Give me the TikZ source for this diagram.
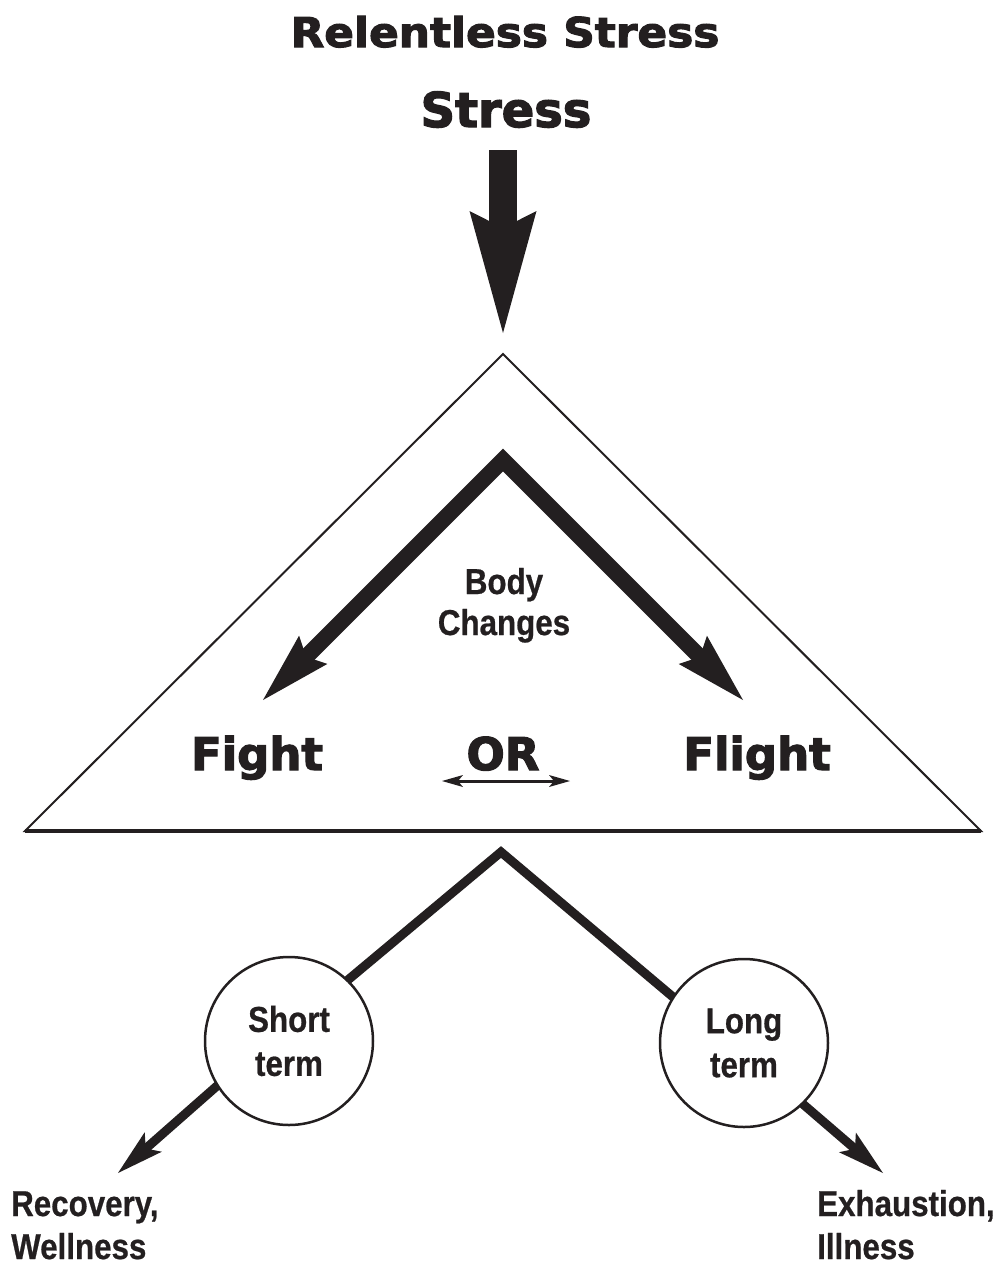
\documentclass[tikz,border=0pt]{standalone}
\usepackage{fontspec}
\usetikzlibrary{arrows.meta,calc}
\newfontfamily\heavyfont{DejaVu Sans}[FakeBold=2.6]
\newfontfamily\titlefont{DejaVu Sans}[FakeStretch=1.07,FakeBold=2.6]
\newfontfamily\condfont{Liberation Sans}[FakeStretch=0.87,FakeBold=0.6]
\definecolor{ink}{RGB}{35,31,32}
\pgfdeclarelayer{bg}
\pgfsetlayers{bg,main}
\tikzset{
  bighead/.tip={Stealth[length=71pt,width=40pt,inset=10pt,line width=0pt]},
  midhead/.tip={Stealth[length=47pt,width=26pt,inset=10pt,line width=0pt]},
  smallhead/.tip={Stealth[length=21pt,width=12pt,inset=5pt,line width=0pt]},
  stresshead/.tip={Stealth[length=122pt,width=67pt,inset=17pt,line width=0pt]},
  heavy/.style={font={\heavyfont\bfseries\fontsize{45}{50}\selectfont}, text=ink, inner sep=0pt, anchor=base},
  cond/.style={font={\condfont\bfseries\fontsize{36}{44}\selectfont}, text=ink, inner sep=0pt},
  circ/.style={cond, circle, draw=ink, line width=2.5pt, fill=white, minimum size=168pt, align=center},
  tri/.style={draw=ink, line width=2pt, line join=miter},
  bigarrow/.style={draw=ink, line width=28pt, -stresshead},
  chev/.style={draw=ink, line width=16pt, line join=miter, bighead-bighead},
  orarrow/.style={draw=ink, line width=3pt, smallhead-smallhead},
  bline/.style={draw=ink, line width=9pt, line join=miter},
  barrow/.style={draw=ink, line width=9pt, -midhead},
}
\begin{document}
\begin{tikzpicture}[x=1pt,y=-1pt]
\useasboundingbox (0,0) rectangle (997,1266);
% titles
\node[heavy, font={\titlefont\bfseries\fontsize{41}{45}\selectfont}] (title) at (505,47) {Relentless Stress};
\node[heavy, font={\heavyfont\bfseries\fontsize{48}{52}\selectfont}] (stress) at (506,127) {Stress};
% triangle
\coordinate (apex) at (503,354);
\coordinate (tl) at (25,831);
\coordinate (tr) at (981,831);
\draw[tri] (tl) -- (apex) -- (tr) -- cycle;
\draw[draw=ink, line width=3.5pt] (tl) -- (tr);
% stress arrow
\draw[bigarrow] ($(stress.base -| apex)+(0,23)$) -- ([yshift=21pt]apex);
% body changes chevron
\coordinate (capex) at (503,460);
\coordinate (fightTip) at (263,700);
\coordinate (flightTip) at (743,700);
\draw[chev] (fightTip) -- (capex) -- (flightTip);
\node[cond, anchor=base] (body) at (504,594) {Body};
\node[cond, anchor=base] (changes) at (504,635) {Changes};
% fight / or / flight
\node[heavy] (fight) at (257,770) {Fight};
\node[heavy] (or) at (503,770) {OR};
\node[heavy] (flight) at (757,770) {Flight};
\coordinate (orL) at (442,781);
\coordinate (orR) at (570,781);
\draw[orarrow] (orL) -- (orR);
% circles
\node[circ] (short) at (289,1041) {Short\\term};
\node[circ] (long) at (744,1043) {Long\\term};
\coordinate (bapex) at (501,852);
\coordinate (recTip) at (118,1173);
\coordinate (exhTip) at (883,1173);
\begin{pgfonlayer}{bg}
\draw[bline] ($(short.46)!-6pt!(bapex)$) -- (bapex) -- ($(long.147)!-6pt!(bapex)$);
\draw[barrow] ($(short.212)!-6pt!(recTip)$) -- (recTip);
\draw[barrow] ($(long.-46)!-6pt!(exhTip)$) -- (exhTip);
\end{pgfonlayer}
% outcomes
\node[cond, anchor=base west] (rec) at (11,1216) {Recovery,};
\node[cond, anchor=base west] (well) at (11,1259) {Wellness};
\node[cond, anchor=base west] (exh) at (817,1216) {Exhaustion,};
\node[cond, anchor=base west] (ill) at (817,1259) {Illness};
\end{tikzpicture}
\end{document}
